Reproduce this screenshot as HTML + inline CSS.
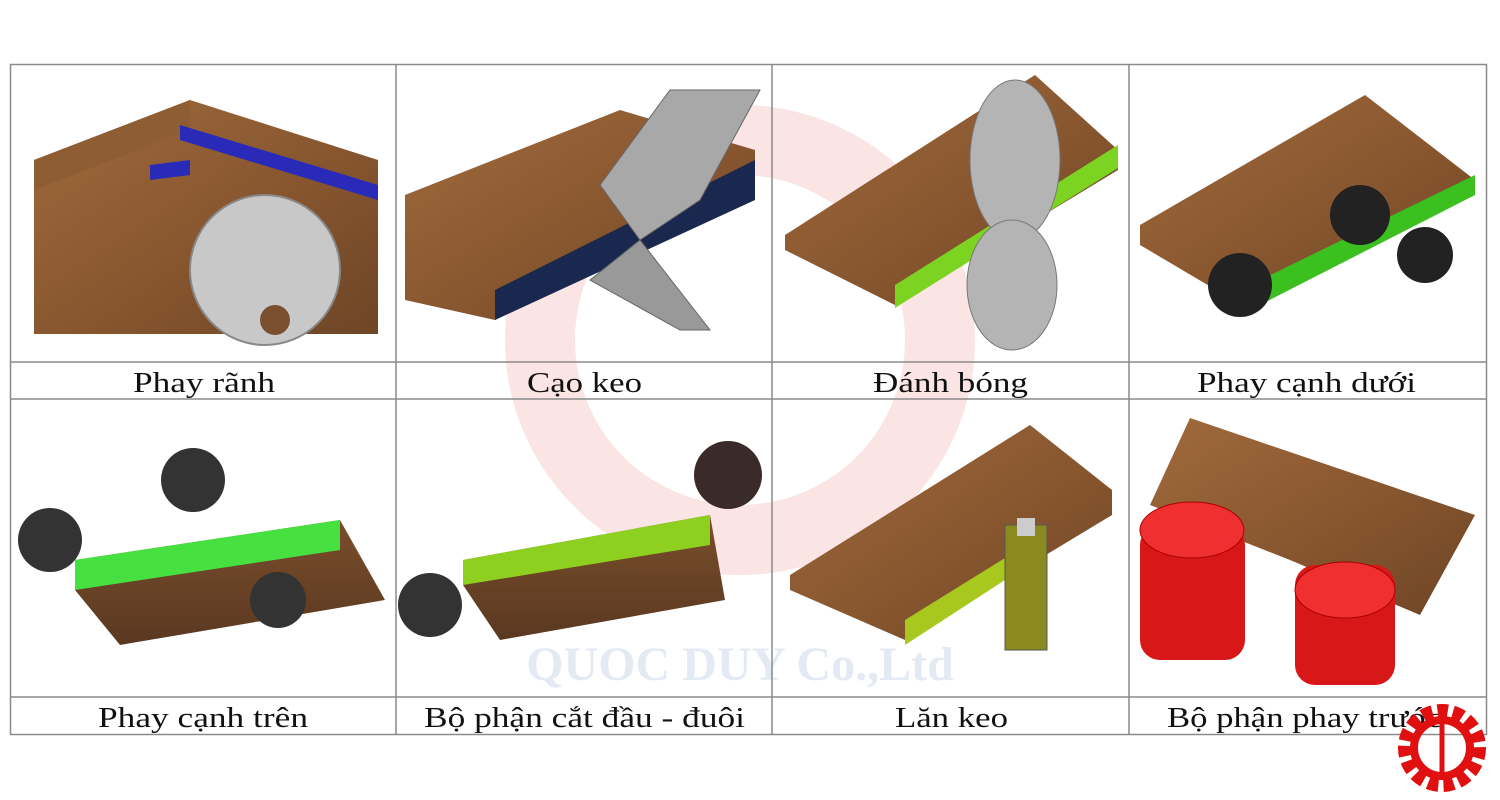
<!DOCTYPE html>
<html><head><meta charset="utf-8"><style>
body{margin:0;width:1500px;height:800px;background:#fff;overflow:hidden;position:relative;font-family:"Liberation Serif",serif}
svg{position:absolute;left:0;top:0}
</style></head><body>
<svg width="1500" height="800" viewBox="0 0 1500 800">
<defs>
<linearGradient id="w" x1="0" y1="0" x2="1" y2="1"><stop offset="0" stop-color="#a06a3c"/><stop offset="0.5" stop-color="#8a5830"/><stop offset="1" stop-color="#6e4526"/></linearGradient>
<linearGradient id="wd" x1="0" y1="0" x2="0" y2="1"><stop offset="0" stop-color="#7a4e2c"/><stop offset="1" stop-color="#5a3820"/></linearGradient>
</defs>
<g opacity="0.12" fill="#e02020">
<circle cx="740" cy="340" r="200" fill="none" stroke="#e02020" stroke-width="70"/>
</g>
<text x="740" y="680" font-size="48" font-weight="bold" fill="#e4eaf4" text-anchor="middle" font-family="Liberation Serif">QUOC DUY Co.,Ltd</text>

<polygon points="34,160 190,100 378,160 378,334 34,334" fill="url(#w)"/>
<polygon points="34,160 190,100 190,130 34,190" fill="#8e5d33"/>
<polygon points="180,125 378,185 378,200 180,140" fill="#2a2ab8"/>
<polygon points="150,165 190,160 190,175 150,180" fill="#2a2ab8"/>
<circle cx="265" cy="270" r="75" fill="#c8c8c8" stroke="#888" stroke-width="2"/>
<circle cx="275" cy="320" r="15" fill="#7a5030"/>

<polygon points="405,195 620,110 755,150 755,195 495,320 405,300" fill="url(#w)"/>
<polygon points="495,290 755,160 755,200 495,320" fill="#1a2850"/>
<polygon points="600,185 670,90 760,90 700,200 640,240" fill="#a8a8a8" stroke="#666"/>
<polygon points="590,280 640,240 710,330 680,330" fill="#999" stroke="#666"/>

<polygon points="785,235 1035,75 1118,150 1118,170 895,305 785,250" fill="url(#w)"/>
<polygon points="895,285 1118,145 1118,168 895,308" fill="#7dd321"/>
<ellipse cx="1015" cy="160" rx="45" ry="80" fill="#b4b4b4" stroke="#777"/>
<ellipse cx="1012" cy="285" rx="45" ry="65" fill="#b4b4b4" stroke="#777"/>

<polygon points="1140,225 1365,95 1475,180 1250,310 1140,245" fill="url(#w)"/>
<polygon points="1250,285 1475,175 1475,195 1250,310" fill="#3cc020"/>
<circle cx="1360" cy="215" r="30" fill="#222"/>
<circle cx="1240" cy="285" r="32" fill="#222"/>
<circle cx="1425" cy="255" r="28" fill="#222"/>

<polygon points="75,560 340,520 385,600 120,645 75,590" fill="url(#wd)"/>
<polygon points="75,560 340,520 340,550 75,590" fill="#46e040"/>
<circle cx="50" cy="540" r="32" fill="#333"/>
<circle cx="193" cy="480" r="32" fill="#333"/>
<circle cx="278" cy="600" r="28" fill="#333"/>

<polygon points="463,560 710,515 725,600 500,640 463,585" fill="url(#wd)"/>
<polygon points="463,560 710,515 710,545 463,585" fill="#8ed020"/>
<circle cx="430" cy="605" r="32" fill="#333"/>
<circle cx="728" cy="475" r="34" fill="#3a2a2a"/>

<polygon points="790,575 1030,425 1112,490 1112,515 905,640 790,590" fill="url(#w)"/>
<polygon points="905,620 1005,558 1005,580 905,645" fill="#a8c820"/>
<rect x="1005" y="525" width="42" height="125" fill="#8a8a20" stroke="#555"/>
<rect x="1017" y="518" width="18" height="18" fill="#ccc"/>

<polygon points="1150,505 1190,418 1475,515 1420,615 1290,560" fill="url(#w)"/>
<rect x="1140" y="525" width="105" height="135" rx="20" fill="#d81818"/>
<rect x="1295" y="565" width="100" height="120" rx="20" fill="#d81818"/>
<ellipse cx="1192" cy="530" rx="52" ry="28" fill="#f03030" stroke="#a00"/>
<ellipse cx="1345" cy="590" rx="50" ry="28" fill="#f03030" stroke="#a00"/>

<g stroke="#8a8a8a" stroke-width="1.5" fill="none">
<rect x="10.5" y="64.5" width="1476" height="670"/>
<line x1="10" y1="362" x2="1487" y2="362"/><line x1="10" y1="399" x2="1487" y2="399"/><line x1="10" y1="697" x2="1487" y2="697"/>
<line x1="396" y1="64" x2="396" y2="735"/><line x1="772" y1="64" x2="772" y2="735"/><line x1="1129" y1="64" x2="1129" y2="735"/>
</g>
<g font-size="29" fill="#111" font-family="Liberation Serif, serif">
<text x="133" y="392" textLength="142" lengthAdjust="spacingAndGlyphs">Phay rãnh</text>
<text x="527" y="392" textLength="115" lengthAdjust="spacingAndGlyphs">Cạo keo</text>
<text x="873" y="392" textLength="155" lengthAdjust="spacingAndGlyphs">Đánh bóng</text>
<text x="1197" y="392" textLength="219" lengthAdjust="spacingAndGlyphs">Phay cạnh dưới</text>
<text x="98" y="727" textLength="210" lengthAdjust="spacingAndGlyphs">Phay cạnh trên</text>
<text x="424" y="727" textLength="321" lengthAdjust="spacingAndGlyphs">Bộ phận cắt đầu - đuôi</text>
<text x="895" y="727" textLength="113" lengthAdjust="spacingAndGlyphs">Lăn keo</text>
<text x="1167" y="727" textLength="275" lengthAdjust="spacingAndGlyphs">Bộ phận phay trước</text>
</g>
<circle cx="1442" cy="748" r="36" fill="none" stroke="#e01010" stroke-width="16" stroke-dasharray="10 5"/>
<circle cx="1442" cy="748" r="28" fill="none" stroke="#e01010" stroke-width="8"/>
<line x1="1442" y1="722" x2="1442" y2="775" stroke="#e01010" stroke-width="5"/>
</svg>
</body></html>
